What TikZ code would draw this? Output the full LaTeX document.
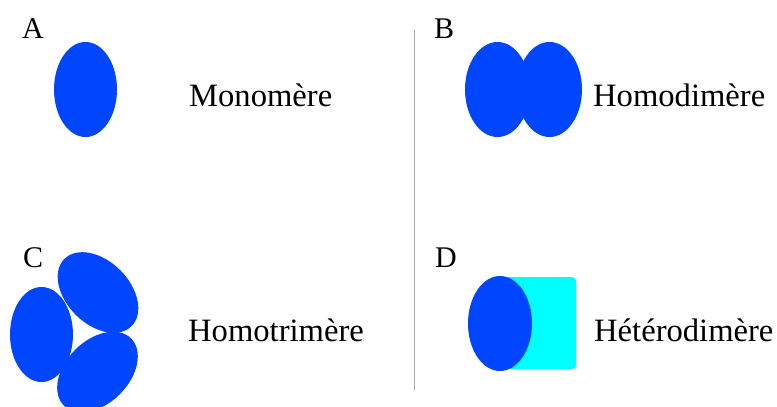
\documentclass[tikz,border=0pt]{standalone}
\usepackage{fontspec}
\setmainfont{Liberation Serif}
\definecolor{protblue}{RGB}{0,70,255}
\definecolor{protcyan}{RGB}{0,255,255}
\begin{document}
\begin{tikzpicture}[x=1pt, y=-1pt,
    panel/.style={anchor=base west, inner sep=0pt, font=\fontsize{30}{36}\selectfont},
    protname/.style={anchor=base west, inner sep=0pt, font=\fontsize{32.6}{39}\selectfont},
    sub/.style={fill=protblue}]
    \useasboundingbox (0, 0) rectangle (777, 407);
    % Separator
    \draw[line width=1.3pt, gray!65] (414.5, 30) -- (414.5, 390);

    % A: monomer
    \node[panel] (labA) at (22, 38) {A};
    \fill[sub] (85.5, 89.5) ellipse [x radius=31.5, y radius=47.5];
    \node[protname] (monomer) at (189, 106) {Monomère};

    % B: homodimer
    \node[panel] (labB) at (434, 38) {B};
    \fill[sub] (497.5, 89.5) ellipse [x radius=32.5, y radius=47.5];
    \fill[sub] (549.5, 89.5) ellipse [x radius=32.5, y radius=47.5];
    \node[protname] (homodimer) at (593, 106) {Homodimère};

    % C: homotrimer
    \node[panel] (labC) at (23, 267) {C};
    \fill[sub] (41.5, 334.5) ellipse [x radius=31.5, y radius=47.5];
    \fill[sub, rotate around={45:(98, 292.5)}] (98, 292.5) ellipse [x radius=31.5, y radius=47.5];
    \fill[sub, rotate around={-45:(97.5, 372)}] (97.5, 372) ellipse [x radius=31.5, y radius=47.5];
    \node[protname] (homotrimer) at (188, 341) {Homotrimère};

    % D: heterodimer
    \node[panel] (labD) at (435, 267) {D};
    \fill[protcyan, rounded corners=4pt] (500, 277) rectangle (576, 369);
    \fill[sub] (500, 323.5) ellipse [x radius=32, y radius=47.5];
    \node[protname] (heterodimer) at (594, 341) {Hétérodimère};
\end{tikzpicture}
\end{document}
